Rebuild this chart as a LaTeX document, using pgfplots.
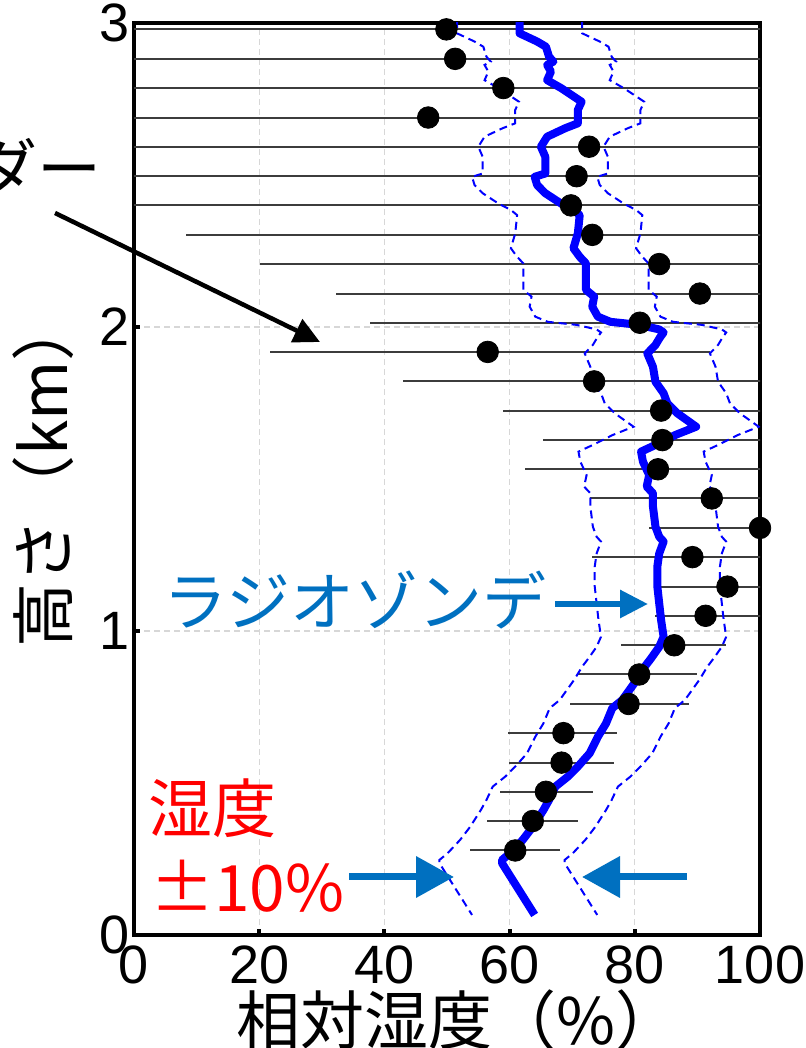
\documentclass[border=0pt]{standalone}
\usepackage{fontspec}
\setmainfont{Liberation Sans}
\newfontfamily\cjk{Noto Sans CJK JP}
\usepackage{pgfplots}
\usepackage{pgfplotstable}
\pgfplotsset{compat=1.18}
\usetikzlibrary{arrows.meta}
\definecolor{sondeblue}{RGB}{0,0,255}
\definecolor{annblue}{RGB}{0,112,192}
\definecolor{annred}{RGB}{255,0,0}
\definecolor{gridgray}{RGB}{215,215,215}
\definecolor{barcol}{RGB}{60,60,60}

\pgfplotstableread{
h rh lo hi
2.979 49.9 -10 110
2.882 51.3 -10 110
2.786 59.0 -10 110
2.689 47.0 -10 110
2.593 72.7 -10 110
2.496 70.7 -10 110
2.400 69.8 -10 110
2.303 73.2 8.3 110
2.207 83.9 20.2 110
2.110 90.4 32.3 110
2.014 80.8 37.7 110
1.918 56.5 21.7 92.0
1.821 73.5 43.0 110
1.725 84.2 59.0 110
1.628 84.4 65.3 110
1.532 83.7 62.4 110
1.436 92.3 72.8 110
1.339 100.0 82.2 110
1.243 89.2 73.1 110
1.146 94.8 83.9 110
1.050 91.3 83.2 110
0.953 86.3 77.8 94.5
0.857 80.7 70.9 89.9
0.760 79.0 69.6 88.6
0.664 68.6 59.8 77.2
0.567 68.3 59.9 76.6
0.471 65.8 58.4 73.3
0.375 63.7 56.4 70.9
0.278 60.9 53.6 68.1
}\lidar

\pgfplotstableread{
h rh
3.010 61.6
2.966 61.6
2.939 64.4
2.922 65.8
2.889 66.3
2.873 67.0
2.862 66.0
2.840 66.6
2.812 66.0
2.785 68.3
2.741 71.5
2.714 70.9
2.670 70.9
2.654 68.9
2.626 66.0
2.593 65.0
2.560 65.7
2.505 65.7
2.494 64.0
2.467 64.4
2.440 65.7
2.405 68.3
2.385 70.2
2.368 71.2
2.308 70.9
2.259 70.2
2.231 71.2
2.209 72.2
2.166 72.2
2.122 72.2
2.100 73.5
2.067 73.2
2.034 74.1
2.017 76.1
2.007 80.7
1.992 83.9
1.982 84.6
1.965 84.0
1.941 83.3
1.913 82.0
1.869 82.9
1.820 83.3
1.782 84.6
1.749 85.2
1.716 86.8
1.672 89.8
1.645 86.5
1.612 83.3
1.590 81.0
1.557 81.3
1.513 82.3
1.475 81.9
1.453 82.9
1.409 82.9
1.343 83.3
1.310 83.9
1.294 84.6
1.255 83.9
1.212 83.6
1.146 83.6
1.091 83.9
1.036 84.2
0.981 84.6
0.948 83.9
0.910 82.6
0.883 81.6
0.839 80.3
0.773 78.0
0.746 76.4
0.696 75.4
0.652 74.1
0.598 72.8
0.554 70.9
0.521 69.3
0.488 67.3
0.444 66.3
0.411 65.4
0.356 63.7
0.313 62.1
0.269 60.1
0.247 58.8
0.236 58.8
0.066 64.0
}\sonde

\begin{document}
\begin{tikzpicture}
\begin{axis}[
  at={(0,0)}, anchor=south west,
  width=313pt, height=456pt, scale only axis,
  xmin=0, xmax=100, ymin=0, ymax=3,
  xtick={0,20,40,60,80,100}, ytick={0,1,2,3},
  tick align=inside, xtick pos=bottom, ytick pos=left,
  major tick length=3pt,
  tick style={black, line width=2pt},
  axis line style={black, line width=2pt},
  grid=major,
  major grid style={gridgray, line width=0.6pt, dash pattern=on 3pt off 2pt},
  tick label style={font=\fontsize{27}{27}\selectfont},
  /pgf/number format/assume math mode=true,
  xticklabel style={inner sep=0pt, yshift=-5pt},
  yticklabel style={inner sep=0pt, xshift=-2pt},
  clip mode=global,
]
\addplot[only marks, mark=none, forget plot,
  error bars/.cd, x dir=both, x explicit, error mark=none,
  error bar style={barcol, line width=1pt}]
  table[x=rh, y=h,
        x error plus expr=\thisrow{hi}-\thisrow{rh},
        x error minus expr=\thisrow{rh}-\thisrow{lo}] {\lidar};
\addplot[sondeblue, line width=1pt, dash pattern=on 4pt off 2.5pt, mark=none]
  table[x expr=\thisrow{rh}-10, y=h] {\sonde};
\addplot[sondeblue, line width=1pt, dash pattern=on 4pt off 2.5pt, mark=none]
  table[x expr=\thisrow{rh}+10, y=h] {\sonde};
\addplot[sondeblue, line width=4pt, line join=round, mark=none]
  table[x=rh, y=h] {\sonde};
\addplot[only marks, mark=*, mark size=5.4pt, black]
  table[x=rh, y=h] {\lidar};
\end{axis}
\begin{scope}[x=0.5pt, y=-0.5pt, shift={(-67pt,467.5pt)}]
  \node[anchor=base east, inner sep=0pt, font=\cjk\fontsize{32}{32}\selectfont] at (102,193) {ライダー};
  \draw[black, line width=2.25pt, -{Triangle[length=13pt,width=12.5pt]}] (55,213) -- (320,342);
  \node[anchor=base west, inner sep=0pt, text=annblue, font=\cjk\fontsize{32}{32}\selectfont] at (163,626) {ラジオゾンデ};
  \draw[annblue, line width=3pt, -{Triangle[length=14pt,width=13.5pt]}] (555,604) -- (648,604);
  \node[anchor=base west, inner sep=0pt, text=annred, font=\cjk\fontsize{32}{32}\selectfont] at (148,833) {湿度};
  \node[anchor=base west, inner sep=0pt, text=annred, font=\cjk\fontsize{32}{32}\selectfont] at (150,912) {±10\%};
  \draw[annblue, line width=3.5pt, -{Triangle[length=19pt,width=20pt]}] (349,877) -- (454,877);
  \draw[annblue, line width=3.5pt, -{Triangle[length=19pt,width=20pt]}] (687,877) -- (582,877);
  \node[anchor=base west, inner sep=0pt, font=\cjk\fontsize{32}{32}\selectfont] at (236,1044) {相対湿度（\%）};
  \node[rotate=90, anchor=base west, inner sep=0pt, font=\cjk\fontsize{32}{32}\selectfont] at (68,648) {高さ（km）};
  \pgfresetboundingbox
  \path[use as bounding box] (0,0) rectangle (805,1048);
\end{scope}
\end{tikzpicture}
\end{document}
